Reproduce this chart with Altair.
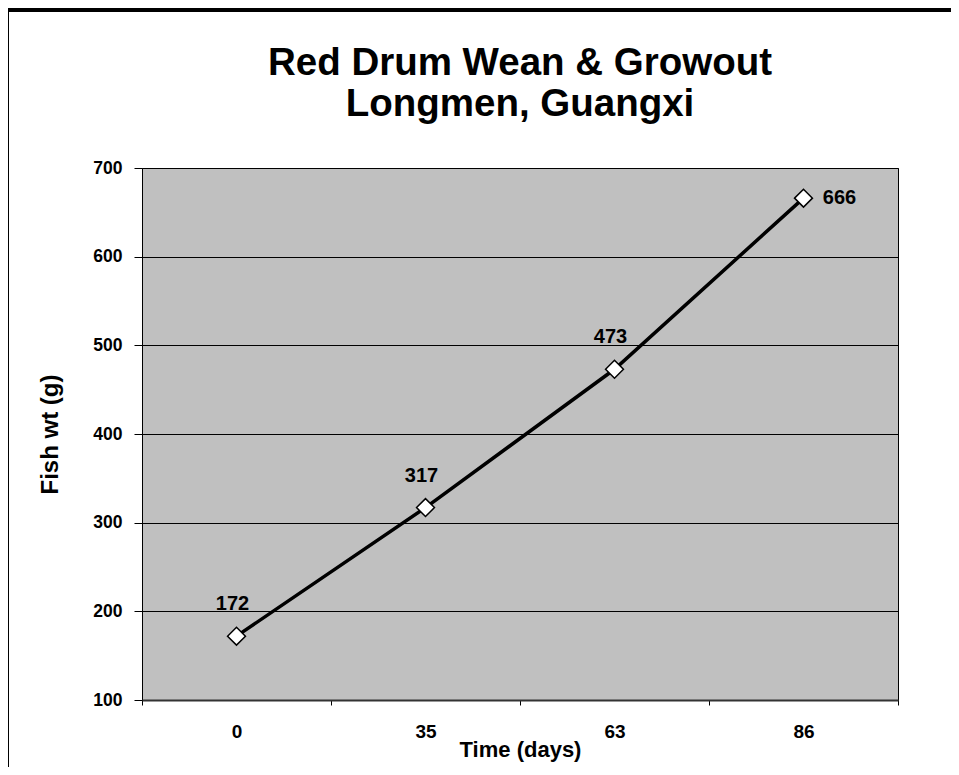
import altair as alt
import pandas as pd

days = ["0", "35", "63", "86"]
weights = [172, 317, 473, 666]

df = pd.DataFrame({"day": days, "wt": weights})
FONT = "Liberation Sans"

x_enc = alt.X("day:N", sort=days,
              scale=alt.Scale(type="band", paddingInner=0, paddingOuter=0),
              axis=alt.Axis(title="Time (days)", labelAngle=0, tickBand="extent",
                            grid=False, domain=True, domainColor="#333333", domainWidth=2,
                            tickColor="black", tickSize=5, labelPadding=17,
                            labelFontSize=19, labelFont=FONT, labelFontWeight="bold",
                            labelColor="black", titleFontSize=22, titleFont=FONT,
                            titleFontWeight="bold", titleColor="black", titlePadding=-2))
y_enc = alt.Y("wt:Q", scale=alt.Scale(domain=[100, 700], nice=False, zero=False),
              axis=alt.Axis(title="Fish wt (g)", values=[100, 200, 300, 400, 500, 600, 700],
                            grid=True, gridColor="black", gridWidth=1, domain=False,
                            tickColor="black", tickSize=8, labelPadding=12,
                            labelFontSize=17.5, labelFont=FONT, labelFontWeight="bold",
                            labelColor="black", titleFontSize=24, titleFont=FONT,
                            titleFontWeight="bold", titleColor="black", titlePadding=30))

base = alt.Chart(df)
line = base.mark_line(color="black", strokeWidth=3.5).encode(x=x_enc, y=y_enc)
pts = base.mark_point(shape="diamond", filled=True, fill="white", stroke="black",
                      strokeWidth=1.5, size=320, opacity=1).encode(x="day:N", y="wt:Q")
lab_above = base.transform_filter(alt.datum.day != "86").mark_text(
    font=FONT, fontWeight="bold", fontSize=20, color="black", dy=-32, dx=-4
).encode(x="day:N", y="wt:Q", text="wt:Q")
lab_right = base.transform_filter(alt.datum.day == "86").mark_text(
    font=FONT, fontWeight="bold", fontSize=20, color="black", dx=36, dy=0
).encode(x="day:N", y="wt:Q", text="wt:Q")

frame = alt.Chart(pd.DataFrame({"f": [0]})).mark_rect(
    fill=None, stroke="black", strokeWidth=4
).encode(x=alt.value(-135), y=alt.value(-158), x2=alt.value(900), y2=alt.value(700))

chart = alt.layer(frame, line, pts, lab_above, lab_right).properties(
    width=756, height=532,
    title=alt.Title(["Red Drum Wean & Growout", "Longmen, Guangxi"],
                    fontSize=38.5, font=FONT, fontWeight="bold", color="black",
                    anchor="middle", lineHeight=41, offset=-116),
    autosize=alt.AutoSizeParams(type="none"),
    padding={"left": 134, "top": 160, "right": 53, "bottom": 67},
    background="white",
).configure_view(fill="#C0C0C0", stroke="black", strokeWidth=1)

chart.save("out.html", embed_options={"renderer": "svg", "actions": False})
